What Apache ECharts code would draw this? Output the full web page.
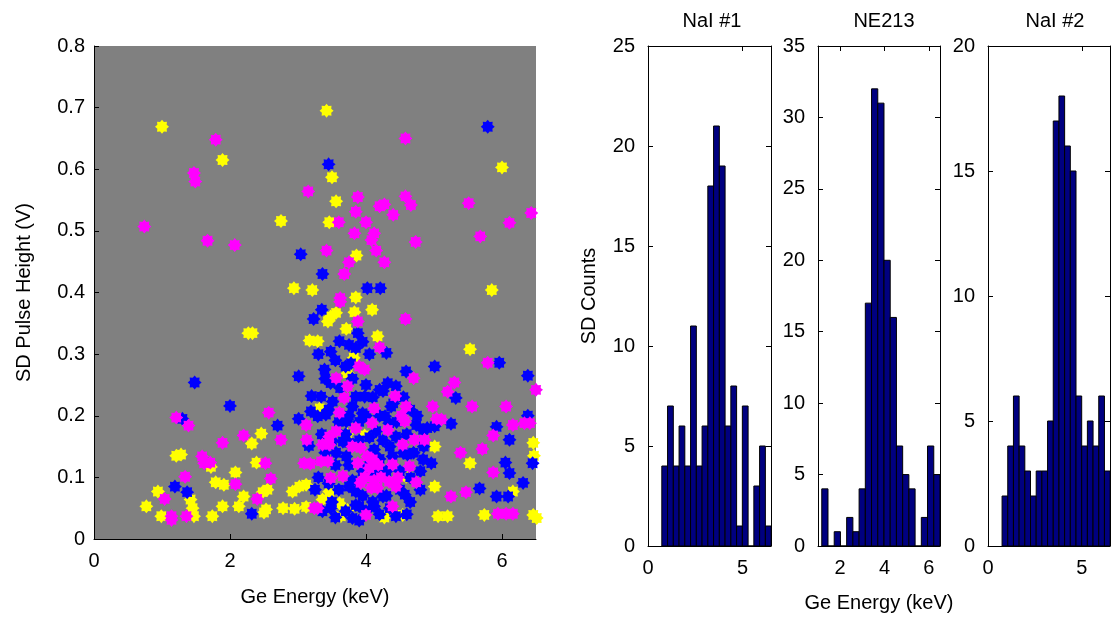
<!DOCTYPE html>
<html>
<head>
<meta charset="utf-8">
<title>Ge energy vs SD pulse height</title>
<script src="https://cdn.jsdelivr.net/npm/echarts@6/dist/echarts.min.js"></script>
<style>
html, body { margin: 0; padding: 0; background: #fff; }
#main { width: 1111px; height: 619px; }
</style>
</head>
<body>
<div id="main"></div>
<script>
// scatter points [Ge energy keV, SD pulse height V]
var yellowPts = [
    [1.00,0.669],[1.89,0.615],[2.75,0.516],[2.94,0.407],[3.21,0.404],[3.42,0.695],[6.00,0.603],
    [3.50,0.587],[3.56,0.548],[3.46,0.514],[3.86,0.460],[5.85,0.404],[3.85,0.392],
    [2.27,0.334],[2.33,0.334],[3.17,0.322],[3.29,0.321],
    [2.46,0.171],[2.32,0.155],[1.21,0.135],[1.28,0.137],[1.72,0.117],[2.39,0.124],[2.08,0.108],
    [1.79,0.092],[1.91,0.088],[0.94,0.077],[2.55,0.080],[2.48,0.076],[2.92,0.077],[3.02,0.085],
    [3.12,0.088],[2.20,0.069],[0.77,0.053],[1.89,0.053],[2.13,0.053],[1.45,0.050],[1.42,0.064],
    [2.53,0.048],[2.50,0.043],[2.78,0.050],[2.95,0.049],[3.12,0.052],[0.99,0.037],[1.47,0.037],
    [1.74,0.037],[3.44,0.353],[3.48,0.361],[3.56,0.367],[3.83,0.368],[4.09,0.372],[3.71,0.341],
    [4.17,0.329],[5.53,0.308],[3.32,0.212],[3.98,0.168],[3.72,0.170],[5.01,0.150],[6.46,0.156],
    [5.53,0.123],[4.59,0.101],[5.01,0.085],[6.16,0.077],[3.46,0.077],[3.61,0.058],[3.36,0.064],
    [4.27,0.035],[4.54,0.039],[3.63,0.037],[5.06,0.037],[5.20,0.037],[5.74,0.039],[6.46,0.039],
    [6.51,0.034],[3.73,0.269],[3.73,0.047],[3.82,0.294],[6.47,0.135]
];
var bluePts = [
    [3.04,0.462],[5.79,0.669],[3.45,0.608],[3.36,0.430],[4.02,0.407],[4.21,0.407],
    [3.23,0.357],[3.01,0.264],[1.48,0.254],[3.20,0.232],[2.00,0.216],[3.19,0.207],[1.30,0.195],
    [2.70,0.184],[3.01,0.195],[3.16,0.151],[1.19,0.085],[1.37,0.076],[2.32,0.041],
    [3.35,0.372],[3.88,0.334],[3.61,0.321],[3.75,0.315],[3.85,0.310],[4.30,0.302],[3.48,0.304],
    [5.96,0.286],[5.01,0.280],[4.59,0.272],[3.39,0.275],[3.78,0.285],[6.38,0.265],[5.32,0.229],
    [4.32,0.253],[4.44,0.248],[4.20,0.242],[3.48,0.253],[3.98,0.231],[3.85,0.231],[3.34,0.231],
    [3.51,0.223],[4.37,0.215],[3.80,0.215],[3.95,0.204],[3.41,0.202],[3.29,0.199],[4.28,0.199],
    [4.34,0.188],[3.71,0.191],[5.25,0.187],[5.01,0.183],[6.38,0.200],[5.92,0.182],[4.74,0.185],
    [4.84,0.177],[4.15,0.175],[6.11,0.161],[4.44,0.166],[3.66,0.158],[3.75,0.156],[4.12,0.145],
    [3.56,0.140],[3.71,0.134],[4.39,0.134],[4.61,0.137],[4.84,0.129],[4.96,0.123],[6.05,0.124],
    [6.45,0.123],[4.12,0.110],[6.11,0.107],[3.75,0.085],[3.85,0.077],[6.31,0.091],[5.67,0.082],
    [5.92,0.069],[6.09,0.069],[4.25,0.069],[4.57,0.072],[3.48,0.050],[3.36,0.045],[3.90,0.053],
    [4.12,0.053],[3.80,0.034],[4.44,0.037],
    [3.30,0.300],[3.55,0.290],[3.70,0.280],[3.95,0.320],[4.05,0.300],[3.40,0.260],[3.62,0.245],
    [3.80,0.260],[4.00,0.250],[4.10,0.230],[4.25,0.240],[4.40,0.220],[4.55,0.230],[4.65,0.210],
    [4.75,0.200],[3.45,0.210],[3.60,0.190],[3.75,0.200],[3.90,0.190],[4.00,0.200],[4.20,0.200],
    [4.45,0.190],[4.60,0.170],[4.90,0.180],[3.35,0.170],[3.50,0.160],[3.70,0.170],[3.90,0.160],
    [4.05,0.165],[4.25,0.160],[4.35,0.150],[4.55,0.140],[4.70,0.140],[4.85,0.150],[3.40,0.140],
    [3.55,0.120],[3.75,0.120],[3.95,0.110],[4.05,0.120],[4.20,0.130],[4.30,0.110],[4.50,0.110],
    [4.65,0.100],[4.80,0.110],[3.30,0.100],[3.45,0.090],[3.60,0.080],[3.80,0.095],[3.95,0.070],
    [4.10,0.060],[4.30,0.070],[4.50,0.080],[4.65,0.060],[4.80,0.080],[3.50,0.060],[3.70,0.045],
    [3.85,0.055],[4.00,0.045],[4.20,0.040],[4.35,0.050],[3.25,0.080],[3.55,0.035],[3.90,0.030],
    [4.60,0.040]
];
var magentaPts = [
    [1.79,0.648],[1.47,0.594],[1.49,0.580],[3.15,0.564],[0.74,0.507],[1.67,0.484],[2.07,0.477],
    [4.58,0.650],[3.88,0.555],[3.85,0.531],[4.20,0.540],[4.27,0.543],[4.58,0.556],[4.66,0.542],
    [4.40,0.526],[5.51,0.545],[6.43,0.529],[6.11,0.513],[3.60,0.514],[4.00,0.514],[3.83,0.496],
    [4.12,0.496],[4.08,0.485],[4.15,0.468],[4.73,0.482],[5.68,0.491],[3.42,0.468],[3.75,0.449],
    [4.27,0.449],[3.68,0.430],[3.62,0.391],
    [2.57,0.205],[1.21,0.197],[1.39,0.184],[3.12,0.185],[2.20,0.168],[2.75,0.161],[3.13,0.161],
    [1.89,0.156],[1.59,0.134],[1.62,0.123],[1.71,0.124],[2.52,0.123],[3.09,0.123],[3.18,0.122],
    [1.34,0.101],[2.60,0.098],[2.08,0.089],[1.04,0.065],[2.40,0.065],[1.14,0.037],[1.14,0.031],
    [1.36,0.037],[3.24,0.050],
    [3.62,0.385],[3.88,0.353],[4.58,0.357],[4.20,0.311],[5.79,0.286],[3.90,0.280],[3.98,0.275],
    [3.56,0.261],[4.70,0.261],[5.30,0.254],[6.50,0.242],[5.20,0.239],[3.73,0.248],[4.43,0.232],
    [3.68,0.229],[4.12,0.212],[4.59,0.215],[4.98,0.215],[5.56,0.215],[6.06,0.215],[3.61,0.205],
    [4.52,0.200],[4.57,0.191],[5.04,0.195],[5.11,0.194],[4.09,0.188],[6.16,0.185],[6.33,0.188],
    [6.41,0.188],[3.85,0.180],[4.32,0.177],[3.56,0.175],[3.46,0.166],[5.87,0.168],[4.71,0.161],
    [4.86,0.161],[3.36,0.153],[3.46,0.153],[4.54,0.153],[5.71,0.146],[5.39,0.140],[3.80,0.150],
    [3.92,0.148],[4.02,0.134],[4.10,0.129],[3.34,0.126],[3.44,0.126],[3.88,0.123],[4.39,0.121],
    [4.64,0.118],[5.87,0.108],[3.48,0.099],[3.66,0.102],[4.34,0.093],[4.44,0.085],[4.74,0.092],
    [3.92,0.091],[4.08,0.083],[4.17,0.083],[5.25,0.069],[5.47,0.076],[3.29,0.050],[4.39,0.053],
    [4.00,0.039],[5.94,0.041],[6.16,0.041],[6.06,0.041],
    [4.05,0.115],[4.18,0.120],[4.22,0.100],[3.98,0.100],[4.12,0.095],[4.47,0.100]
];

// histogram counts per bin (19 bins each), first bin edge and bin width in keV
var nai1Counts  = [4, 7, 4, 6, 4, 11, 4, 6, 18, 21, 19, 6, 8, 1, 7, 0, 3, 5, 1];
var ne213Counts = [4, 0, 1, 0, 2, 1, 4, 17, 32, 31, 20, 16, 7, 5, 4, 0, 2, 7, 5];
var nai2Counts  = [2, 4, 6, 4, 3, 2, 3, 3, 5, 17, 18, 16, 15, 6, 4, 5, 4, 6, 3];
var nai1Start = 0.73,  nai1Width = 0.304;
var ne213Start = 1.17, ne213Width = 0.2805;
var nai2Start = 0.75,  nai2Width = 0.303;

var scatterXTicks = [0, 2, 4, 6];
var nai1XTicks = [0, 5];
var ne213XTicks = [2, 4, 6];
var nai2XTicks = [0, 5];

var chart = echarts.init(document.getElementById('main'));

var txt = {fontFamily: 'Liberation Sans, Arial, sans-serif', fontSize: 20, color: '#000'};

// 8 point star like the matlab markers
function starPath() {
    var d = '';
    for (var i = 0; i < 16; i++) {
        var r = i % 2 ? 0.72 : 1;
        var a = Math.PI * i / 8;
        d += (i ? 'L' : 'M') + (r * Math.sin(a)).toFixed(3) + ' ' + (-r * Math.cos(a)).toFixed(3);
    }
    return 'path://' + d + 'Z';
}
var star = starPath();

function bins(counts, start, width) {
    return counts.map(function (c, i) {
        return [start + i * width, start + (i + 1) * width, c];
    });
}

var tick = {show: true, inside: true, length: 5, lineStyle: {color: '#000', width: 1}};
var line = {show: true, onZero: false, lineStyle: {color: '#000', width: 1}};

function xAx(grid, min, max, ticks, pos, labels, name, gap) {
    var a = {
        type: 'value', gridIndex: grid, min: min, max: max, position: pos,
        axisLine: line,
        axisTick: Object.assign({customValues: ticks}, tick),
        axisLabel: Object.assign({show: labels, margin: 12, customValues: ticks}, txt),
        splitLine: {show: false}
    };
    if (name) {
        a.name = name;
        a.nameLocation = 'middle';
        a.nameGap = gap;
        a.nameTextStyle = txt;
    }
    return a;
}
function yAx(grid, max, interval, pos, labels, margin, name, gap) {
    var a = {
        type: 'value', gridIndex: grid, min: 0, max: max, interval: interval, position: pos,
        axisLine: line,
        axisTick: tick,
        axisLabel: Object.assign({show: labels, margin: margin}, txt),
        splitLine: {show: false}
    };
    if (name) {
        a.name = name;
        a.nameLocation = 'middle';
        a.nameGap = gap;
        a.nameTextStyle = txt;
    }
    return a;
}

function histSeries(axis, data) {
    return {
        type: 'custom', xAxisIndex: axis, yAxisIndex: axis, clip: true, silent: true,
        encode: {x: [0, 1], y: 2},
        data: data,
        renderItem: function (params, api) {
            var p0 = api.coord([api.value(0), api.value(2)]);
            var p1 = api.coord([api.value(1), 0]);
            return {
                type: 'rect',
                shape: {x: p0[0], y: p0[1], width: p1[0] - p0[0], height: p1[1] - p0[1]},
                style: {fill: '#000080', stroke: '#000', lineWidth: 1}
            };
        }
    };
}

function dots(data, color) {
    return {
        type: 'scatter', xAxisIndex: 0, yAxisIndex: 0, clip: false, silent: true,
        symbol: star, symbolSize: 14,
        itemStyle: {color: color, opacity: 1},
        data: data
    };
}

var option = {
    animation: false,
    backgroundColor: '#fff',
    title: [
        {text: 'NaI #1', left: 707, top: 6, textAlign: 'center', textStyle: Object.assign({fontWeight: 'normal'}, txt)},
        {text: 'NE213', left: 879, top: 6, textAlign: 'center', textStyle: Object.assign({fontWeight: 'normal'}, txt)},
        {text: 'NaI #2', left: 1050, top: 6, textAlign: 'center', textStyle: Object.assign({fontWeight: 'normal'}, txt)}
    ],
    grid: [
        {left: 94, top: 46, width: 442, height: 493, show: true, backgroundColor: '#808080', borderWidth: 0},
        {left: 648, top: 46, width: 123, height: 500},
        {left: 818, top: 46, width: 122, height: 500},
        {left: 988, top: 46, width: 122, height: 500}
    ],
    xAxis: [
        xAx(0, 0, 6.5, scatterXTicks, 'bottom', true, 'Ge Energy (keV)', 48),
        xAx(1, 0, 6.5, nai1XTicks, 'bottom', true),
        xAx(1, 0, 6.5, nai1XTicks, 'top', false),
        xAx(2, 1, 6.5, ne213XTicks, 'bottom', true, 'Ge Energy (keV)', 47),
        xAx(2, 1, 6.5, ne213XTicks, 'top', false),
        xAx(3, 0, 6.5, nai2XTicks, 'bottom', true),
        xAx(3, 0, 6.5, nai2XTicks, 'top', false)
    ],
    yAxis: [
        yAx(0, 0.8, 0.1, 'left', true, 9, 'SD Pulse Height (V)', 60),
        yAx(1, 25, 5, 'left', true, 13, 'SD Counts', 49),
        yAx(1, 25, 5, 'right', false, 13),
        yAx(2, 35, 5, 'left', true, 13),
        yAx(2, 35, 5, 'right', false, 13),
        yAx(3, 20, 5, 'left', true, 13),
        yAx(3, 20, 5, 'right', false, 13)
    ],
    series: [
        dots(yellowPts, '#ffff00'),
        dots(bluePts, '#0000ff'),
        dots(magentaPts, '#ff00ff'),
        histSeries(1, bins(nai1Counts, nai1Start, nai1Width)),
        histSeries(3, bins(ne213Counts, ne213Start, ne213Width)),
        histSeries(5, bins(nai2Counts, nai2Start, nai2Width))
    ]
};

chart.setOption(option);
</script>
</body>
</html>
